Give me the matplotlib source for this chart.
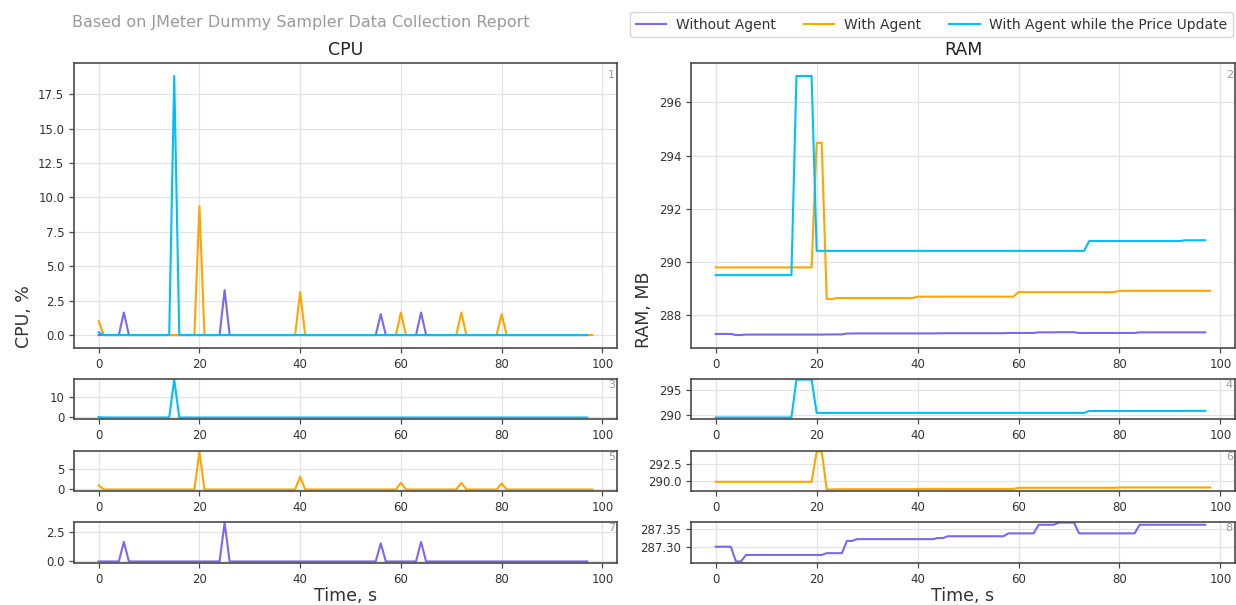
import matplotlib
matplotlib.use("Agg")
import matplotlib.pyplot as plt

# ---------------- data ----------------
series_names = ["Without Agent", "With Agent", "With Agent while the Price Update"]
series_colors = ["#7B68EE", "#FFA500", "#00BFFF"]

time_without = list(range(98))
time_with = list(range(99))
time_price = list(range(98))

cpu_without = [
    0, 0, 0, 0, 0, 1.64, 0, 0, 0, 0,
    0, 0, 0, 0, 0, 0, 0, 0, 0, 0,
    0, 0, 0, 0, 0, 3.26, 0, 0, 0, 0,
    0, 0, 0, 0, 0, 0, 0, 0, 0, 0,
    0, 0, 0, 0, 0, 0, 0, 0, 0, 0,
    0, 0, 0, 0, 0, 0, 1.52, 0, 0, 0,
    0, 0, 0, 0, 1.64, 0, 0, 0, 0, 0,
    0, 0, 0, 0, 0, 0, 0, 0, 0, 0,
    0, 0, 0, 0, 0, 0, 0, 0, 0, 0,
    0, 0, 0, 0, 0, 0, 0, 0,
]
cpu_with = [
    1.01, 0, 0, 0, 0, 0, 0, 0, 0, 0,
    0, 0, 0, 0, 0, 0, 0, 0, 0, 0,
    9.37, 0, 0, 0, 0, 0, 0, 0, 0, 0,
    0, 0, 0, 0, 0, 0, 0, 0, 0, 0,
    3.14, 0, 0, 0, 0, 0, 0, 0, 0, 0,
    0, 0, 0, 0, 0, 0, 0, 0, 0, 0,
    1.64, 0, 0, 0, 0, 0, 0, 0, 0, 0,
    0, 0, 1.64, 0, 0, 0, 0, 0, 0, 0,
    1.52, 0, 0, 0, 0, 0, 0, 0, 0, 0,
    0, 0, 0, 0, 0, 0, 0, 0, 0,
]
cpu_price = [
    0.2, 0, 0, 0, 0, 0, 0, 0, 0, 0,
    0, 0, 0, 0, 0, 18.83, 0, 0, 0, 0,
    0, 0, 0, 0, 0, 0, 0, 0, 0, 0,
    0, 0, 0, 0, 0, 0, 0, 0, 0, 0,
    0, 0, 0, 0, 0, 0, 0, 0, 0, 0,
    0, 0, 0, 0, 0, 0, 0, 0, 0, 0,
    0, 0, 0, 0, 0, 0, 0, 0, 0, 0,
    0, 0, 0, 0, 0, 0, 0, 0, 0, 0,
    0, 0, 0, 0, 0, 0, 0, 0, 0, 0,
    0, 0, 0, 0, 0, 0, 0, 0,
]

ram_without = [
    287.300, 287.300, 287.300, 287.300, 287.259, 287.259, 287.277, 287.277, 287.277, 287.277,
    287.277, 287.277, 287.277, 287.277, 287.277, 287.277, 287.277, 287.277, 287.277, 287.277,
    287.277, 287.277, 287.282, 287.282, 287.282, 287.282, 287.316, 287.316, 287.321, 287.321,
    287.321, 287.321, 287.321, 287.321, 287.321, 287.321, 287.321, 287.321, 287.321, 287.321,
    287.321, 287.321, 287.321, 287.321, 287.324, 287.324, 287.329, 287.329, 287.329, 287.329,
    287.329, 287.329, 287.329, 287.329, 287.329, 287.329, 287.329, 287.329, 287.337, 287.337,
    287.337, 287.337, 287.337, 287.337, 287.361, 287.361, 287.361, 287.361, 287.367, 287.367,
    287.367, 287.367, 287.337, 287.337, 287.337, 287.337, 287.337, 287.337, 287.337, 287.337,
    287.337, 287.337, 287.337, 287.337, 287.361, 287.361, 287.361, 287.361, 287.361, 287.361,
    287.361, 287.361, 287.361, 287.361, 287.361, 287.361, 287.361, 287.361,
]
ram_with = [
    289.80, 289.80, 289.80, 289.80, 289.80, 289.80, 289.80, 289.80, 289.80, 289.80,
    289.80, 289.80, 289.80, 289.80, 289.80, 289.80, 289.80, 289.80, 289.80, 289.80,
    294.48, 294.48, 288.61, 288.61, 288.65, 288.65, 288.65, 288.65, 288.65, 288.65,
    288.65, 288.65, 288.65, 288.65, 288.65, 288.65, 288.65, 288.65, 288.65, 288.65,
    288.70, 288.70, 288.70, 288.70, 288.70, 288.70, 288.70, 288.70, 288.70, 288.70,
    288.70, 288.70, 288.70, 288.70, 288.70, 288.70, 288.70, 288.70, 288.70, 288.70,
    288.87, 288.87, 288.87, 288.87, 288.87, 288.87, 288.87, 288.87, 288.87, 288.87,
    288.87, 288.87, 288.87, 288.87, 288.87, 288.87, 288.87, 288.87, 288.87, 288.87,
    288.92, 288.92, 288.92, 288.92, 288.92, 288.92, 288.92, 288.92, 288.92, 288.92,
    288.92, 288.92, 288.92, 288.92, 288.92, 288.92, 288.92, 288.92, 288.92,
]
ram_price = [
    289.51, 289.51, 289.51, 289.51, 289.51, 289.51, 289.51, 289.51, 289.51, 289.51,
    289.51, 289.51, 289.51, 289.51, 289.51, 289.51, 296.99, 296.99, 296.99, 296.99,
    290.42, 290.42, 290.42, 290.42, 290.42, 290.42, 290.42, 290.42, 290.42, 290.42,
    290.42, 290.42, 290.42, 290.42, 290.42, 290.42, 290.42, 290.42, 290.42, 290.42,
    290.42, 290.42, 290.42, 290.42, 290.42, 290.42, 290.42, 290.42, 290.42, 290.42,
    290.42, 290.42, 290.42, 290.42, 290.42, 290.42, 290.42, 290.42, 290.42, 290.42,
    290.42, 290.42, 290.42, 290.42, 290.42, 290.42, 290.42, 290.42, 290.42, 290.42,
    290.42, 290.42, 290.42, 290.42, 290.79, 290.79, 290.79, 290.79, 290.79, 290.79,
    290.79, 290.79, 290.79, 290.79, 290.79, 290.79, 290.79, 290.79, 290.79, 290.79,
    290.79, 290.79, 290.79, 290.82, 290.82, 290.82, 290.82, 290.82,
]

x_ticks = [0, 20, 40, 60, 80, 100]
yticks_cpu_price = [0, 10]
yticks_cpu_with = [0, 5]
yticks_cpu_without = [0.0, 2.5]
yticks_ram_price = [290, 295]
yticks_ram_with = [290.0, 292.5]
yticks_ram_without = [287.30, 287.35]

title_text = "Based on JMeter Dummy Sampler Data Collection Report"

# ---------------- figure ----------------
W, H = 1236, 605
fig = plt.figure(figsize=(W / 100, H / 100), dpi=100)
plt.rcParams["font.family"] = ["DejaVu Sans"]

SPINE = "#4a4a4a"
GRID = "#e3e3e3"
TXT = "#333333"


def make_ax(x0, y0, x1, y1):
    ax = fig.add_axes([x0 / W, 1 - y1 / H, (x1 - x0) / W, (y1 - y0) / H])
    ax.set_facecolor("white")
    for s in ax.spines.values():
        s.set_color(SPINE)
        s.set_linewidth(1.2)
    ax.grid(True, color=GRID, linewidth=0.9)
    ax.set_axisbelow(True)
    ax.tick_params(axis="both", colors=SPINE, labelcolor=TXT, labelsize=8.5,
                   length=3.5, width=0.9)
    ax.set_xticks(x_ticks)
    return ax


def tag(ax, n):
    ax.text(0.996, 0.975, str(n), transform=ax.transAxes, ha="right", va="top",
            fontsize=8, color="#999999")


LX0, LX1 = 74, 617
RX0, RX1 = 691, 1235
rows = [(63, 348), (379, 419), (451, 491), (522, 563)]

times = [time_without, time_with, time_price]
cpus = [cpu_without, cpu_with, cpu_price]
rams = [ram_without, ram_with, ram_price]
LW = 1.5

# main CPU
ax1 = make_ax(LX0, rows[0][0], LX1, rows[0][1])
lines = []
for t, v, c in zip(times, cpus, series_colors):
    ln, = ax1.plot(t, v, color=c, lw=LW)
    lines.append(ln)
ax1.set_title("CPU", fontsize=12.5, color="#222222", pad=6)
ax1.set_ylabel("CPU, %", loc="bottom", fontsize=12.5, color=TXT)
tag(ax1, 1)

# main RAM
ax2 = make_ax(RX0, rows[0][0], RX1, rows[0][1])
for t, v, c in zip(times, rams, series_colors):
    ax2.plot(t, v, color=c, lw=LW)
ax2.set_title("RAM", fontsize=12.5, color="#222222", pad=6)
ax2.set_ylabel("RAM, MB", loc="bottom", fontsize=12.5, color=TXT)
tag(ax2, 2)

xlim = ax1.get_xlim()
ax2.set_xlim(xlim)


def small(x0, x1, row, t, v, c, yt, n, fmt=None):
    ax = make_ax(x0, rows[row][0], x1, rows[row][1])
    ax.plot(t, v, color=c, lw=LW)
    lo, hi = min(v), max(v)
    r = hi - lo
    ax.set_ylim(lo - 0.04 * r, hi + 0.015 * r)
    ax.set_yticks(yt)
    if fmt:
        ax.set_yticklabels([fmt.format(y) for y in yt])
    ax.set_xlim(xlim)
    tag(ax, n)
    return ax


small(LX0, LX1, 1, time_price, cpu_price, series_colors[2], yticks_cpu_price, 3)
small(LX0, LX1, 2, time_with, cpu_with, series_colors[1], yticks_cpu_with, 5)
a7 = small(LX0, LX1, 3, time_without, cpu_without, series_colors[0], yticks_cpu_without, 7, "{:.1f}")
small(RX0, RX1, 1, time_price, ram_price, series_colors[2], yticks_ram_price, 4)
small(RX0, RX1, 2, time_with, ram_with, series_colors[1], yticks_ram_with, 6, "{:.1f}")
a8 = small(RX0, RX1, 3, time_without, ram_without, series_colors[0], yticks_ram_without, 8, "{:.2f}")

a7.set_xlabel("Time, s", fontsize=12.5, color=TXT, labelpad=1)
a8.set_xlabel("Time, s", fontsize=12.5, color=TXT, labelpad=1)

fig.text(72 / W, 1 - 22 / H, title_text, ha="left", va="center",
         fontsize=11.5, color="#9a9a9a")

fig.legend(lines, series_names, loc="upper right",
           bbox_to_anchor=(1233 / W, 1 - 12 / H), ncol=3, fontsize=10,
           frameon=True, edgecolor="#cccccc", fancybox=True,
           borderpad=0.4, borderaxespad=0, handlelength=2.2, handletextpad=0.7,
           columnspacing=2.0, labelcolor=TXT)

fig.savefig("out.png", dpi=100, facecolor="white")
